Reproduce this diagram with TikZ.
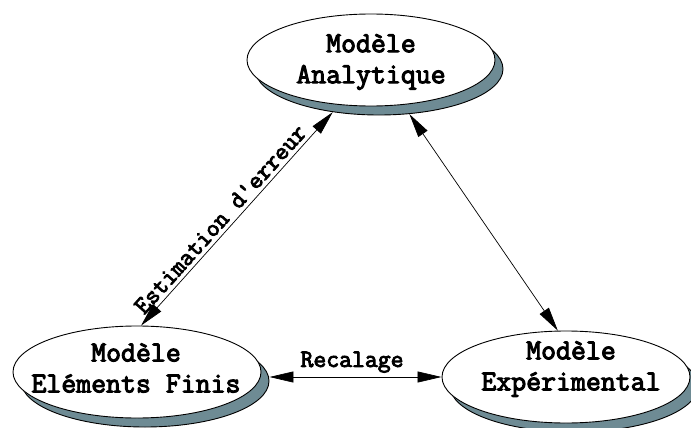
\documentclass[tikz,border=0pt]{standalone}
\usepackage{fontspec}
\newfontfamily\courfont[FakeBold=3.5]{Latin Modern Mono}
\usetikzlibrary{arrows.meta,shapes.geometric}
\definecolor{shadecol}{RGB}{110,139,148}
\tikzset{
  shadowell/.style={ellipse, draw=black, line width=0.9pt, fill=shadecol, minimum width=248pt, minimum height=92pt, inner sep=0pt},
  mainell/.style={ellipse, draw=black, line width=0.9pt, fill=white, minimum width=248pt, minimum height=92pt, inner sep=0pt},
  nodetxt/.style={align=center, font=\courfont\fontsize{29}{31}\selectfont, inner sep=0pt},
  lbl/.style={font=\courfont\fontsize{25}{28}\selectfont, inner sep=4pt},
  link/.style={line width=0.7pt, {Triangle[length=24pt,width=11pt]}-{Triangle[length=24pt,width=11pt]}}
}
\begin{document}
\begin{tikzpicture}[x=1pt,y=-1pt]
\useasboundingbox (0,0) rectangle (691,428);
\clip (0,0) rectangle (691,428);
% shadows
\node[shadowell] (Ash) at (379,69) {};
\node[shadowell] (Bsh) at (145,381) {};
\node[shadowell] (Csh) at (574,386) {};
% ellipses
\node[mainell] (A) at (371,60) {};
\node[mainell] (B) at (137,372) {};
\node[mainell] (C) at (566,377) {};
% texts
\node[nodetxt] (At) at (371,62) {Modèle\\Analytique};
\node[nodetxt] (Bt) at (136,368) {Modèle\\Eléments Finis};
\node[nodetxt] (Ct) at (571,369) {Modèle\\Expérimental};
% connectors
\draw[link] (B.85) -- node[lbl, sloped, above, pos=0.46] {Estimation d'erreur} (Ash.-137);
\draw[link] (Ash.-56) -- (C.100);
\draw[link] (C.west -| Bsh.east) -- node[lbl, above, pos=0.48] {Recalage} (C.west);
\end{tikzpicture}
\end{document}
